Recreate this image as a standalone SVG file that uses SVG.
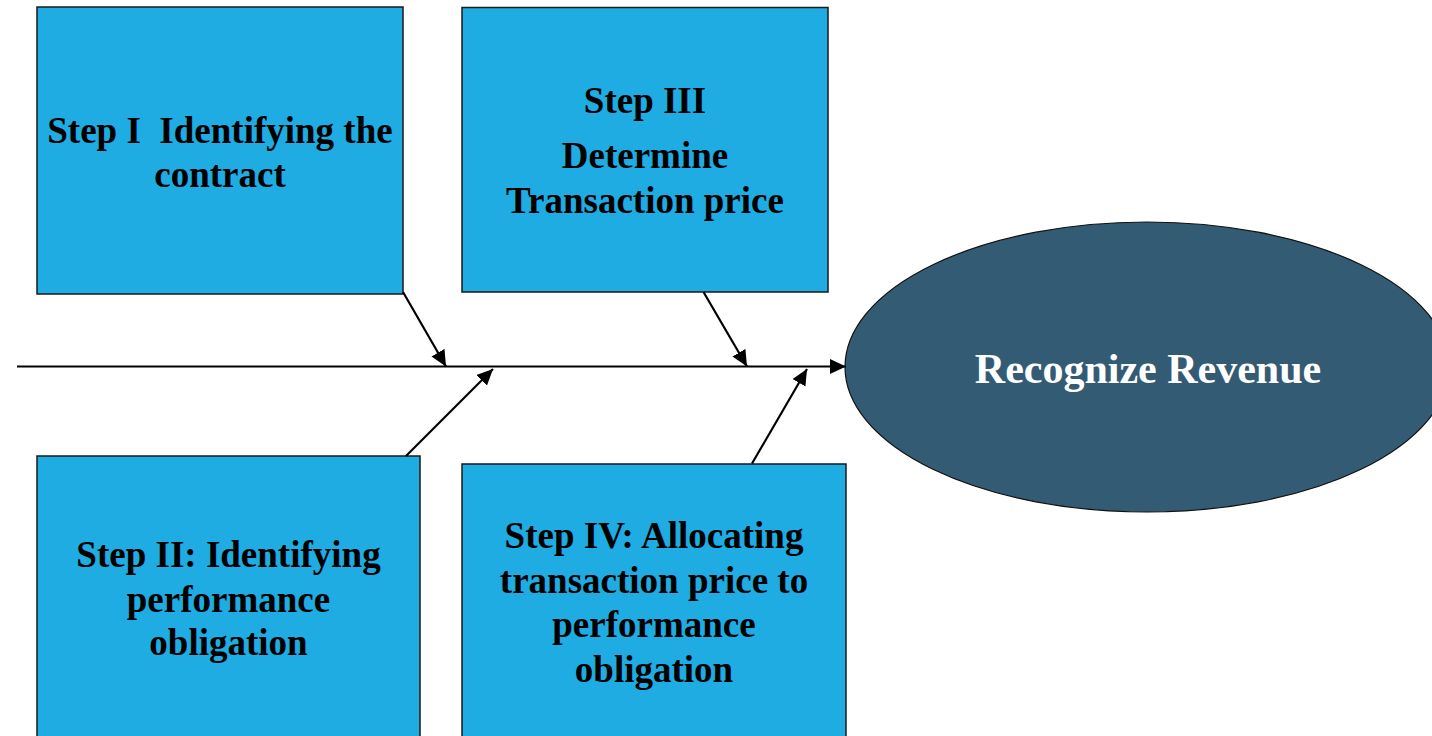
<svg xmlns="http://www.w3.org/2000/svg" width="1432" height="736" viewBox="0 0 1432 736">
  <style>
    .box { fill: #1eace2; stroke: #1a1a1a; stroke-width: 1.5; }
    .goal { fill: #345b74; stroke: #111; stroke-width: 1.2; }
    .lbl { font-family: "Liberation Serif", "Times New Roman", serif; font-weight: bold; font-size: 37px; fill: #000; text-anchor: middle; white-space: pre; }
    .goal-lbl { font-family: "Liberation Serif", "Times New Roman", serif; font-weight: bold; font-size: 42px; fill: #fff; text-anchor: middle; }
    .wire { stroke: #000; stroke-width: 2.2; fill: none; marker-end: url(#head); }
  </style>
  <defs>
    <marker id="head" markerUnits="userSpaceOnUse" markerWidth="18" markerHeight="16" refX="16" refY="7.5" orient="auto">
      <path d="M0,0 L16,7.5 L0,15 Z" fill="#000"/>
    </marker>
  </defs>

  <rect width="1432" height="736" fill="#fff"/>

  <!-- outcome node -->
  <g id="recognize-revenue">
    <ellipse class="goal" cx="1147" cy="367" rx="302" ry="145"/>
    <text class="goal-lbl" x="1148" y="383">Recognize Revenue</text>
  </g>

  <!-- step nodes -->
  <g id="step-1">
    <rect class="box" x="37" y="7" width="366" height="287"/>
    <text class="lbl" x="220" y="143" xml:space="preserve">Step I  Identifying the</text>
    <text class="lbl" x="220" y="187">contract</text>
  </g>

  <g id="step-3">
    <rect class="box" x="462" y="7.5" width="366" height="284.5"/>
    <text class="lbl" x="645" y="113">Step III</text>
    <text class="lbl" x="645" y="168">Determine</text>
    <text class="lbl" x="645" y="213">Transaction price</text>
  </g>

  <g id="step-2">
    <rect class="box" x="37" y="456" width="383" height="290"/>
    <text class="lbl" x="228.5" y="567">Step II: Identifying</text>
    <text class="lbl" x="228.5" y="612">performance</text>
    <text class="lbl" x="228.5" y="655">obligation</text>
  </g>

  <g id="step-4">
    <rect class="box" x="462" y="464" width="384" height="290"/>
    <text class="lbl" x="654" y="548">Step IV: Allocating</text>
    <text class="lbl" x="654" y="593">transaction price to</text>
    <text class="lbl" x="654" y="637">performance</text>
    <text class="lbl" x="654" y="682">obligation</text>
  </g>

  <!-- connectors: spine and ribs -->
  <g id="connectors">
    <line class="wire" x1="17" y1="366.5" x2="846" y2="366.5"/>
    <line class="wire" x1="403" y1="292" x2="446" y2="366.5"/>
    <line class="wire" x1="406" y1="456" x2="493" y2="369"/>
    <line class="wire" x1="703.5" y1="292" x2="747" y2="366.5"/>
    <line class="wire" x1="752" y1="463.5" x2="807" y2="369"/>
  </g>
</svg>
